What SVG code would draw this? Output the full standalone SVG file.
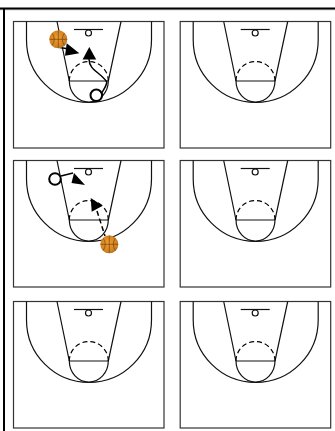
<svg xmlns="http://www.w3.org/2000/svg" width="335" height="431" viewBox="0 0 335 431">
<style>
.l{fill:none;stroke:#333;stroke-width:1.2}
.c{fill:none;stroke:#111;stroke-width:1.2}
.d{fill:none;stroke:#000;stroke-width:1.2;stroke-dasharray:5 3}
.p{fill:#fff;stroke:#000;stroke-width:2}
.a{fill:#000;stroke:none}
.m{fill:none;stroke:#000;stroke-width:1.5}
.n{fill:none;stroke:#000;stroke-width:1.5;stroke-dasharray:5 3}
.s{fill:none;stroke:#6e400c;stroke-width:.8;opacity:.85}
</style>
<defs>
<radialGradient id="bg" cx=".45" cy=".45" r=".6"><stop offset="0" stop-color="#ee9e34"/><stop offset=".75" stop-color="#d5821e"/><stop offset="1" stop-color="#96703c"/></radialGradient>
<g id="court">
<rect class="l" x="13.5" y="21.500" width="150.500" height="126.500"/>
<path class="c" d="M26.500 21.500V40A62.500 62.500 0 0 0 151.500 40V21.500"/>
<path class="c" d="M57 21.500L69.300 81M121 21.500L108.300 81"/>
<path class="c" d="M69.300 81H108.300"/>
<path class="c" d="M69.300 81A19.500 21 0 0 0 108.300 81"/>
<path class="d" d="M69.300 81A19.500 19.500 0 0 1 108.300 81"/>
<path class="c" d="M74 29.500H103"/>
<circle class="c" cx="88.500" cy="33" r="3"/>
</g>
<g id="ball">
<circle r="9" fill="url(#bg)"/>
<path class="s" d="M-8.500 0H8.500M0-8.500V8.500M-6-6Q-2 0-6 6M6-6Q2 0 6 6"/>
</g>
</defs>
<rect width="335" height="431" fill="#fff"/>
<g id="frame">
<path d="M0 9.800H335" stroke="#bbb" stroke-width="1" fill="none"/>
<path d="M0 8.500H335" stroke="#000" stroke-width="2" fill="none"/>
<path d="M4 8V431" stroke="#000" stroke-width="2" fill="none"/>
</g>
<g id="court-1"><use href="#court"/></g>
<g id="court-2"><use href="#court" x="166.700"/></g>
<g id="court-3"><use href="#court" y="139"/></g>
<g id="court-4"><use href="#court" x="166.700" y="139"/></g>
<g id="court-5"><use href="#court" y="280"/></g>
<g id="court-6"><use href="#court" x="166.700" y="280"/></g>
<g id="connectors">
<path class="m" d="M57 47L66 48.500"/>
<path class="a" d="M66.700 43.300L79.300 53.300L65 55.700Z"/>
<path class="m" d="M89 59C89 70 100 72 106.700 81.700C107 85 104 89 101.700 93"/>
<path class="a" d="M89.300 47L96.200 59.500H82.600Z"/>
<path class="m" d="M61 176L73 173"/>
<path class="a" d="M74 173L85 185L71.500 183Z"/>
<path class="a" d="M90.700 198L102.700 205.700L91.700 211.700Z"/>
<path class="n" d="M97 211L105 236"/>
</g>
<g id="player-1"><circle class="p" cx="96.300" cy="95.300" r="5.800"/></g>
<g id="ball-1"><use href="#ball" x="58.300" y="39.300"/></g>
<g id="player-2"><circle class="p" cx="55" cy="179" r="5.800"/></g>
<g id="ball-2"><use href="#ball" x="109.300" y="244.300"/></g>
</svg>
